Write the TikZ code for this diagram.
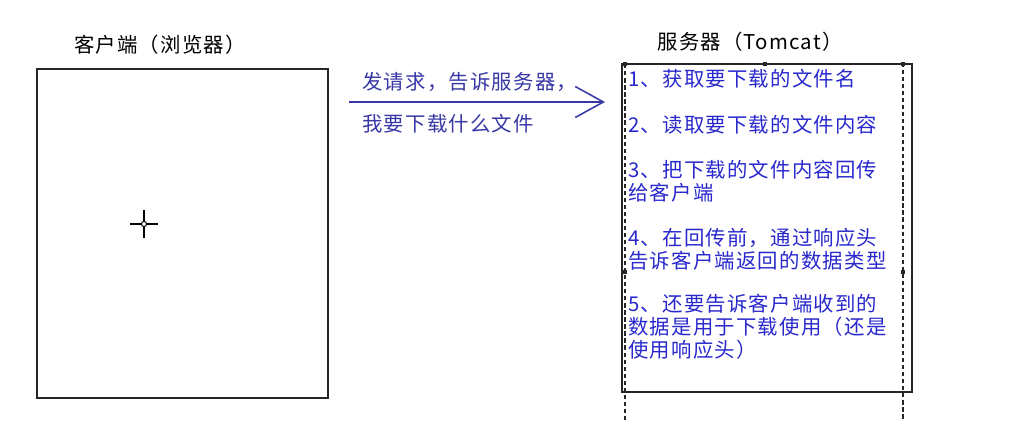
\documentclass[tikz,border=0pt]{standalone}
\usepackage{fontspec}
\setmainfont{Noto Sans CJK SC}[LetterSpace=6]
\usepackage{xcolor}
\usetikzlibrary{arrows.meta}
\definecolor{note}{RGB}{40,40,205}
\definecolor{request}{RGB}{55,55,165}

\begin{document}
\begin{tikzpicture}[x=0.025cm,y=-0.025cm,
    title/.style={font=\fontsize{14.5}{17}\selectfont, inner sep=0pt},
    box/.style={draw=black!85, line width=1.1pt, anchor=north west, inner sep=0pt},
    notetext/.style={text=note, font=\fontsize{14.5}{16.4}\selectfont, align=left, anchor=north west, inner sep=0pt},
    reqtext/.style={text=request, font=\fontsize{14.5}{17}\selectfont, anchor=west, inner sep=0pt},
    handle/.style={fill=black!85, minimum size=3.5pt, inner sep=0pt}
  ]
  \useasboundingbox (0,0) rectangle (1010,420);

  % client
  \node[title] (clienttitle) at (160,45) {客户端（浏览器）};
  \node[box, minimum width=7.275cm, minimum height=8.225cm] (client) at (36,68) {};
  \draw[line width=1.2pt] (130,224) -- (158,224) (144,210) -- (144,238);
  \draw[fill=white, line width=0.7pt] (144,224) circle (2.5);

  % request
  \coordinate (reqfrom) at (349,102);
  \coordinate (reqto) at (605,102);
  \draw[request, line width=1.1pt, -{Straight Barb[length=20pt, width=22pt]}] (reqfrom) -- (reqto);
  \node[reqtext] (ask) at (362,82) {发请求，告诉服务器，};
  \node[reqtext] (askfile) at (362,124) {我要下载什么文件};

  % server
  \node[title] (servertitle) at (750,42) {服务器（Tomcat）};
  \node[box, minimum width=7.25cm, minimum height=8.2cm] (server) at (621,63) {};
  \draw[black!85, line width=0.9pt, dash pattern=on 3pt off 2pt]
    (625,420) -- (625,64) -- (903,64) -- (903,420);
  \foreach \hx/\hy in {625/64, 765/64, 903/64, 625/272, 903/272}
    \node[handle] at (\hx,\hy) {};

  \node[notetext] (item1) at (628,69) {1、获取要下载的文件名};
  \node[notetext] (item2) at (628,115) {2、读取要下载的文件内容};
  \node[notetext] (item3) at (628,160) {3、把下载的文件内容回传\\给客户端};
  \node[notetext] (item4) at (628,228) {4、在回传前，通过响应头\\告诉客户端返回的数据类型};
  \node[notetext] (item5) at (628,294) {5、还要告诉客户端收到的\\数据是用于下载使用（还是\\使用响应头）};
\end{tikzpicture}
\end{document}
